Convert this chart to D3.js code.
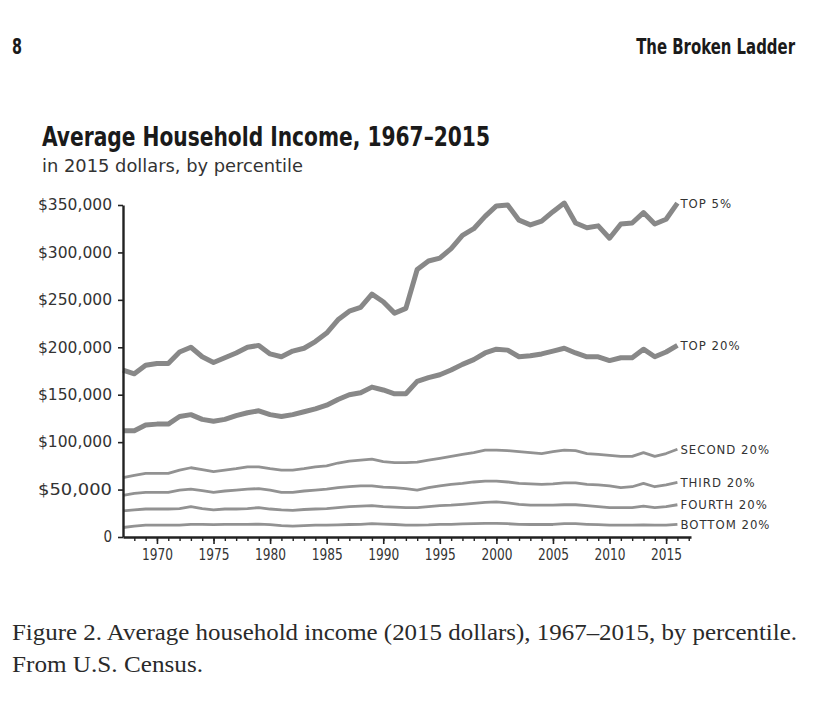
<!DOCTYPE html>
<html>
<head>
<meta charset="utf-8">
<script src="https://cdn.jsdelivr.net/npm/d3@7"></script>
<style>
  html, body { margin: 0; padding: 0; background: #fff; }
  svg { display: block; }
  .cond { font-family: "DejaVu Sans Condensed", "DejaVu Sans", Roboto, sans-serif; }
  .serif { font-family: "Liberation Serif", "DejaVu Serif", serif; }
</style>
</head>
<body>
<svg id="chart" width="828" height="726"></svg>
<script>
// Data: average household income (thousands of 2015 dollars)
const years = d3.range(1967, 2017);
const top5 = [176,172,181,183,183,195,200,190,184,189,
  194,200,202,193,190,196,199,206,215,229,
  238,242,256,248,236,241,282,291,294,304,
  318,325,338,349,350,334,329,333,343,352,
  331,326,328,315,330,331,342,330,335,352];
const top20 = [112,112,118,119,119,127,129,124,122,124,
  128,131,133,129,127,129,132,135,139,145,
  150,152,158,155,151,151,164,168,171,176,
  182,187,194,198,197,190,191,193,196,199,
  194,190,190,186,189,189,198,190,195,202];
const second20 = [62.5,65,67,67,67,70.5,73,71,69,70.5,
  72,74,74,72,70.5,70.5,72,74,75,78,
  80,81,82,79.5,78.5,78.5,79,81,83,85,
  87,89,91.5,91.5,91,90,89,88,90,91.5,
  91,88,87,86,85,85,89,85,88,92.5];
const third20 = [44,46,47,47,47,49.5,50.5,49,47,48.5,
  49.5,50.5,51,49.5,47,47,48.5,49.5,50.5,52,
  53,54,54,52.5,52,51,49.5,52,54,55.5,
  56.5,58,59,59,58,56.5,56,55.5,56,57,
  57,55.5,55,54,52,53,56.5,53,55,57.5];
const fourth20 = [27.5,28.5,29.5,29.5,29.5,30,32,30,28.5,29.5,
  29.5,30,31,29.5,28.5,28,29,29.5,30,31,
  32,32.5,33,32,31.5,31,31,32,33,33.5,
  34.5,35.5,36.5,37,36,34.5,33.5,33.5,33.5,34,
  34,33,32,31,31,31,32.5,31,32,34];
const bottom20 = [10,11.5,12.5,12.5,12.5,12.5,13.3,13.3,13,13.3,
  13.3,13.3,13.5,13,12,11.5,12,12.5,12.5,12.8,
  13.2,13.4,14,13.5,13.2,12.6,12.6,12.8,13.4,13.4,
  13.8,14,14.4,14.4,14,13.4,13.2,13.2,13.2,14.2,
  14,13.4,13,12.6,12.5,12.5,12.8,12.6,12.6,13.4];
const seriesNames = ["TOP 5%","TOP 20%","SECOND 20%","THIRD 20%","FOURTH 20%","BOTTOM 20%"];
const seriesValues = [top5, top20, second20, third20, fourth20, bottom20];
const yTicks = [0,50,100,150,200,250,300,350];
const xMajorTicks = [1970,1975,1980,1985,1990,1995,2000,2005,2010,2015];
const xMinorTicks = d3.range(1968, 2018);

const title = "Average Household Income, 1967–2015";
const subtitle = "in 2015 dollars, by percentile";
const caption1 = "Figure 2. Average household income (2015 dollars), 1967–2015, by percentile.";
const caption2 = "From U.S. Census.";

const svg = d3.select("#chart");

// header
svg.append("text").attr("class","cond").attr("x",12).attr("y",54)
  .attr("font-size",21).attr("font-weight","bold").attr("fill","#1a1a1a")
  .attr("textLength",10).attr("lengthAdjust","spacingAndGlyphs").text("8");
const hdr = svg.append("text").attr("class","cond")
  .attr("text-anchor","end")
  .attr("font-size",21).attr("font-weight","bold").attr("fill","#1a1a1a")
  .text("The Broken Ladder");
const hdrW = hdr.node().getComputedTextLength();
hdr.attr("transform", `translate(795,54) scale(${159 / hdrW},1)`);

// title
svg.append("text").attr("class","cond").attr("x",42).attr("y",146)
  .attr("font-size",26).attr("font-weight","bold").attr("fill","#1a1a1a")
  .attr("textLength",448).attr("lengthAdjust","spacingAndGlyphs").text(title);
svg.append("text").attr("class","cond").attr("x",42).attr("y",172)
  .attr("font-size",17).attr("fill","#333")
  .attr("textLength",261).attr("lengthAdjust","spacingAndGlyphs").text(subtitle);

// scales
const x = d3.scaleLinear().domain([1967, 2017.2]).range([123, 691]);
const y = d3.scaleLinear().domain([0, 350]).range([537, 205]);

// lines
const line = d3.line().x((d,i) => x(years[i])).y(d => y(d));
const g = svg.append("g");
seriesValues.forEach((vals, k) => {
  g.append("path").datum(vals)
    .attr("d", line)
    .attr("fill","none")
    .attr("stroke", k < 2 ? "#888" : "#929292")
    .attr("stroke-width", k < 2 ? 5 : 2.8)
    .attr("stroke-linejoin","round")
    .attr("stroke-linecap","butt");
  g.append("text").attr("class","cond")
    .attr("x", x(years[years.length-1]) + 3)
    .attr("y", y(vals[vals.length-1]))
    .attr("dy","0.36em")
    .attr("font-size",13).attr("fill","#333")
    .attr("letter-spacing","1")
    .text(seriesNames[k]);
});

// y axis
const yAxis = svg.append("g").attr("transform","translate(123,0)")
  .call(d3.axisLeft(y).tickValues(yTicks).tickSize(5).tickSizeOuter(0).tickPadding(6)
    .tickFormat(d => d === 0 ? "0" : "$" + d3.format(",")(d*1000)));
yAxis.select(".domain").attr("stroke","#222").attr("stroke-width",2.4);
yAxis.selectAll(".tick line").attr("stroke","#222").attr("stroke-width",1.6);
yAxis.selectAll(".tick text").attr("class","cond").attr("font-size",15).attr("fill","#333")
  .each(function(d){ if (d !== 0) d3.select(this).attr("textLength",74).attr("lengthAdjust","spacingAndGlyphs"); });

// x axis minor ticks
const xMinor = svg.append("g").attr("transform","translate(0,537)")
  .call(d3.axisBottom(x).tickValues(xMinorTicks).tickSize(4).tickSizeOuter(0).tickFormat(""));
xMinor.select(".domain").attr("stroke","#222").attr("stroke-width",2.4);
xMinor.selectAll(".tick line").attr("stroke","#222").attr("stroke-width",1.4);

// x axis major ticks
const xMajor = svg.append("g").attr("transform","translate(0,537)")
  .call(d3.axisBottom(x).tickValues(xMajorTicks).tickSize(7).tickSizeOuter(0).tickPadding(5)
    .tickFormat(d3.format("d")));
xMajor.select(".domain").remove();
xMajor.selectAll(".tick line").attr("stroke","#222").attr("stroke-width",1.6);
xMajor.selectAll(".tick text").attr("class","cond").attr("font-size",15).attr("fill","#333")
  .attr("textLength",31).attr("lengthAdjust","spacingAndGlyphs");

// caption
svg.append("text").attr("class","serif").attr("x",12).attr("y",640)
  .attr("font-size",24).attr("fill","#2a2a2a")
  .attr("textLength",785).attr("lengthAdjust","spacingAndGlyphs").text(caption1);
svg.append("text").attr("class","serif").attr("x",12).attr("y",672)
  .attr("font-size",24).attr("fill","#2a2a2a")
  .attr("textLength",191).attr("lengthAdjust","spacingAndGlyphs").text(caption2);
</script>
</body>
</html>
